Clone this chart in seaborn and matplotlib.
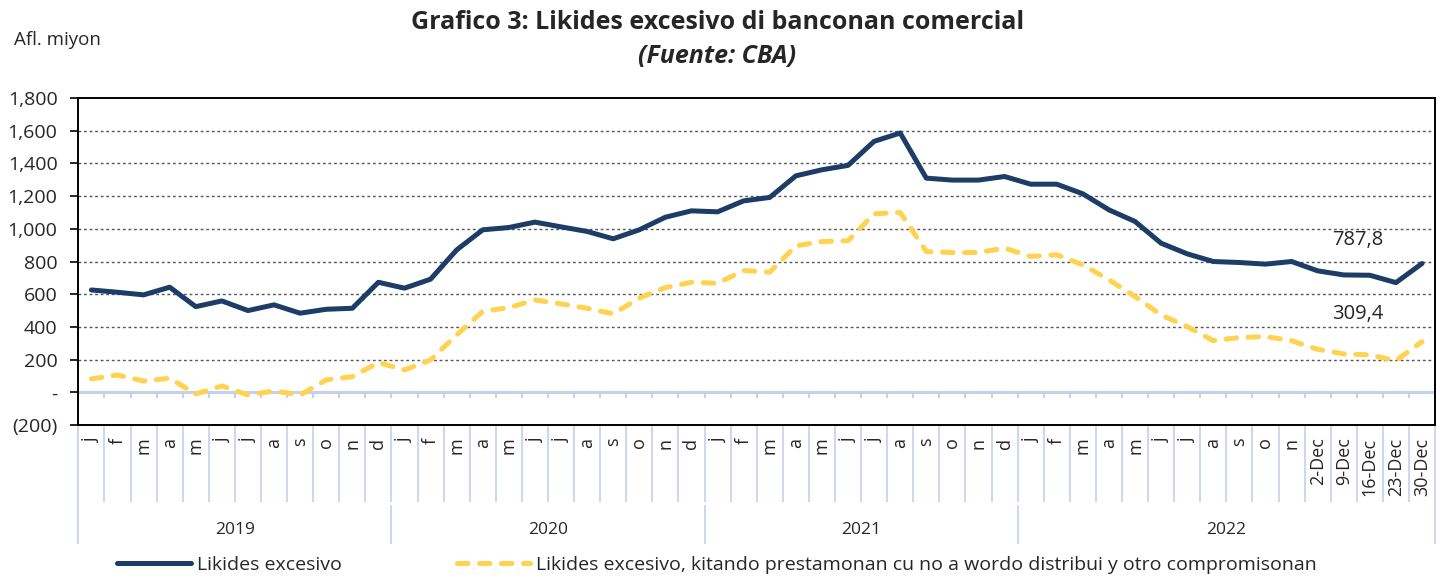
import numpy as np
import pandas as pd
import matplotlib
matplotlib.use("Agg")
import matplotlib.pyplot as plt
import matplotlib.transforms as mtrans
import seaborn as sns

# --- data (Afl. miyon) ---
meses = list("jfmamjjasond") * 3 + list("jfmamjjason") + ["2-Dec", "9-Dec", "16-Dec", "23-Dec", "30-Dec"]
anja = ["2019", "2020", "2021", "2022"]
anja_largo = [12, 12, 12, 16]

likides = [626, 612, 596, 643, 524, 559, 500, 535, 484, 508, 514, 673,
           637, 692, 871, 994, 1008, 1041, 1012, 984, 939, 994, 1071, 1110,
           1104, 1171, 1192, 1324, 1361, 1388, 1535, 1586, 1310, 1298, 1298, 1320,
           1273, 1273, 1214, 1116, 1045, 912, 847, 800, 794, 784, 800,
           743, 718, 716, 671, 787.8]
likides_kitando = [82, 106, 69, 86, -10, 39, -16, 8, -16, 76, 96, 182,
                   137, 198, 351, 495, 518, 565, 541, 514, 480, 576, 641, 673,
                   667, 745, 735, 896, 922, 927, 1092, 1100, 861, 855, 855, 882,
                   831, 841, 780, 688, 586, 473, 402, 316, 335, 341, 316,
                   263, 235, 229, 194, 309.4]

lbl1 = "Likides excesivo"
lbl2 = "Likides excesivo, kitando prestamonan cu no a wordo distribui y otro compromisonan"

df = pd.DataFrame({"pos": np.arange(len(meses)), "likides": likides, "kitando": likides_kitando})

sns.set_theme(style="white")
plt.rcParams["font.family"] = ["Open Sans", "DejaVu Sans"]

navy = "#1d3c66"
geel = "#ffd24f"
sep_col = "#c3d1ec"

fig = plt.figure(figsize=(14.43, 5.80), dpi=100)
ax = fig.add_axes([0.0543, 0.2672, 0.9402, 0.5638])

sns.lineplot(data=df, x="pos", y="likides", ax=ax, color=navy, linewidth=3.6,
             solid_capstyle="round", label=lbl1, zorder=4)
sns.lineplot(data=df, x="pos", y="kitando", ax=ax, color=geel, linewidth=3.6,
             linestyle=(0, (2.1, 2.3)), dash_capstyle="round", label=lbl2, zorder=3)

ax.set_xlim(-0.5, len(meses) - 0.5)
ax.set_ylim(-200, 1800)
ax.set_xlabel("")
ax.set_ylabel("")

# y axis
yt = np.arange(-200, 1801, 200)
ax.set_yticks(yt)
def fmt(v):
    if v == 0:
        return "-"
    if v < 0:
        return "({:,})".format(-v)
    return "{:,}".format(v)
ax.set_yticklabels([fmt(v) for v in yt], fontsize=14)
ax.tick_params(axis="y", direction="out", length=6, width=1.2, color="black", pad=9, left=True)

for v in yt[2:-1]:
    ax.axhline(v, color="#555555", lw=1.0, ls=(0, (2, 2)), zorder=1)
ax.axhline(0, color=sep_col, lw=2.2, zorder=2)

for s in ax.spines.values():
    s.set_color("black")
    s.set_linewidth(1.4)

# x axis: month labels
ax.set_xticks(df["pos"])
ax.set_xticklabels(meses, rotation=90, fontsize=13, va="top", ha="center")
ax.tick_params(axis="x", length=0, pad=9, bottom=False)

bounds = np.arange(len(meses) + 1) - 0.5
trans = mtrans.blended_transform_factory(ax.transData, ax.transAxes)
ax.vlines(bounds, -35, 0, color=sep_col, lw=1.5, zorder=2)
ax.vlines(bounds, -0.235, 0, transform=trans, color=sep_col, lw=1.2, clip_on=False)

# year labels and separators
start = 0
for y, n in zip(anja, anja_largo):
    b0 = start - 0.5
    ax.vlines([b0], -0.365, -0.245, transform=trans, color=sep_col, lw=1.2, clip_on=False)
    ax.text(start + n / 2 - 0.5, -0.322, y, transform=trans, ha="center", va="center", fontsize=12.5)
    start += n
ax.vlines([start - 0.5], -0.365, -0.245, transform=trans, color=sep_col, lw=1.2, clip_on=False)
ax.vlines([-0.5, start - 0.5], -0.245, -0.235, transform=trans, color=sep_col, lw=1.2, clip_on=False)

# end value labels
ax.annotate("787,8", (df["pos"].iloc[-1], likides[-1]), xytext=(-46, 17), textcoords="offset points",
            ha="center", va="center", fontsize=14.5)
ax.annotate("309,4", (df["pos"].iloc[-1], likides_kitando[-1]), xytext=(-46, 20), textcoords="offset points",
            ha="center", va="center", fontsize=14.5)

# titles
fig.text(0.497, 0.962, "Grafico 3: Likides excesivo di banconan comercial", ha="center", va="center",
         fontsize=18, fontweight="bold")
fig.text(0.497, 0.902, "(Fuente: CBA)", ha="center", va="center", fontsize=18,
         fontweight="bold", fontstyle="italic")
fig.text(0.010, 0.931, "Afl. miyon", ha="left", va="center", fontsize=13.5)

# legend
handles, labels = ax.get_legend_handles_labels()
ax.get_legend().remove()
fig.legend(handles, labels, loc="center", bbox_to_anchor=(0.497, 0.026), ncol=2, frameon=False,
           fontsize=14, handlelength=3.8, columnspacing=5.9, handletextpad=0.3)

fig.savefig("out.png", dpi=100)
